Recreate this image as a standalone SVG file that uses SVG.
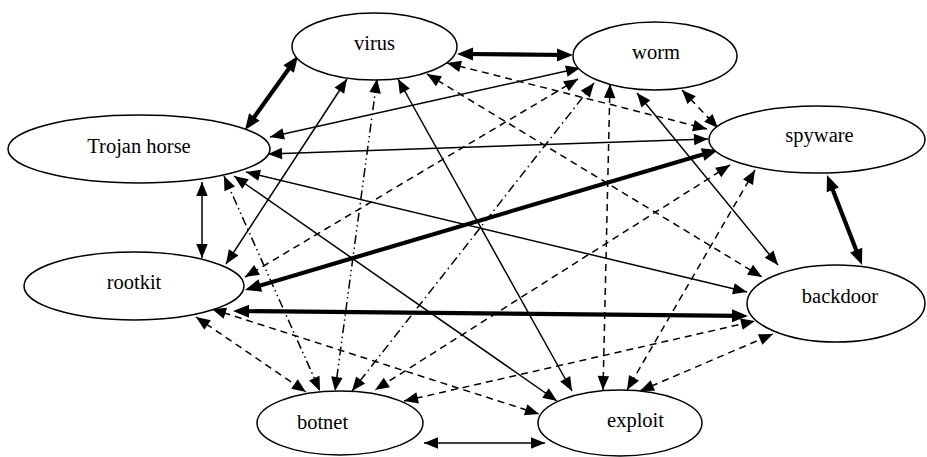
<svg xmlns="http://www.w3.org/2000/svg" width="927" height="457" viewBox="0 0 927 457">
<style>
.n ellipse{fill:#fff;stroke:#000;stroke-width:1.5}
.n text{font-family:'Liberation Serif','Times New Roman',Times,serif;font-size:20.5px;text-anchor:middle;fill:#000}
.e line{stroke:#000;fill:none}
.s{stroke-width:1.5;marker-start:url(#a);marker-end:url(#a)}
.d{stroke-width:1.5;stroke-dasharray:7 5;marker-start:url(#a);marker-end:url(#a)}
.dd{stroke-width:1.5;stroke-dasharray:9 4 1.5 4;marker-start:url(#a);marker-end:url(#a)}
.ddd{stroke-width:1.5;stroke-dasharray:9 3.5 1.5 3.5 1.5 3.5;marker-start:url(#a);marker-end:url(#a)}
.t{stroke-width:4.2;marker-start:url(#A);marker-end:url(#A)}
</style>
<defs>
<marker id="a" markerUnits="userSpaceOnUse" markerWidth="14" markerHeight="12" refX="14" refY="5.75" orient="auto-start-reverse" overflow="visible"><path d="M0,0 L14,5.75 L0,11.5 z" fill="#000"/></marker>
<marker id="A" markerUnits="userSpaceOnUse" markerWidth="16" markerHeight="13" refX="8" refY="6.5" orient="auto-start-reverse" overflow="visible"><path d="M0,0 L16,6.5 L0,13 z" fill="#000"/></marker>
</defs>
<g class="e" id="connectors">
<line class="s" x1="202" y1="182" x2="202" y2="258"/>
<line class="s" x1="424" y1="443" x2="545" y2="443"/>
<line class="s" x1="270" y1="137" x2="580" y2="68"/>
<line class="s" x1="268" y1="154" x2="708" y2="139"/>
<line class="s" x1="246" y1="172" x2="747" y2="292"/>
<line class="s" x1="234" y1="176" x2="557" y2="401"/>
<line class="s" x1="347" y1="79" x2="226" y2="264"/>
<line class="s" x1="398" y1="79" x2="572" y2="391"/>
<line class="s" x1="637" y1="93" x2="778" y2="265"/>
<line class="d" x1="447" y1="63" x2="707" y2="129"/>
<line class="d" x1="427" y1="74" x2="762" y2="277"/>
<line class="d" x1="682" y1="90" x2="718" y2="128"/>
<line class="d" x1="578" y1="79" x2="245" y2="277"/>
<line class="d" x1="610" y1="84" x2="603" y2="390"/>
<line class="d" x1="730" y1="165" x2="375" y2="390"/>
<line class="d" x1="755" y1="170" x2="627" y2="390"/>
<line class="d" x1="196" y1="317" x2="306" y2="392"/>
<line class="d" x1="212" y1="309" x2="539" y2="414"/>
<line class="d" x1="404" y1="401" x2="755" y2="321"/>
<line class="d" x1="640" y1="391" x2="773" y2="334"/>
<line class="ddd" x1="224" y1="176" x2="320" y2="391"/>
<line class="ddd" x1="377" y1="79" x2="335" y2="391"/>
<line class="dd" x1="594" y1="83" x2="352" y2="391"/>
<line class="t" x1="465" y1="54" x2="565" y2="55"/>
<line class="t" x1="249.7" y1="123.5" x2="293.3" y2="62.5"/>
<line class="t" x1="829.9" y1="182.5" x2="859.1" y2="257.5"/>
<line class="t" x1="252.7" y1="287.7" x2="710.3" y2="152.3"/>
<line class="t" x1="241" y1="311.1" x2="740" y2="315.9"/>
</g>
<g class="n" id="virus"><ellipse cx="374.5" cy="46.5" rx="82.5" ry="33.5"/><text x="374.5" y="49.5" font-family="Liberation Serif, serif">virus</text></g>
<g class="n" id="worm"><ellipse cx="655" cy="56" rx="82" ry="34"/><text x="656" y="59" font-family="Liberation Serif, serif">worm</text></g>
<g class="n" id="spyware"><ellipse cx="817" cy="139.5" rx="108" ry="33.5"/><text x="819.5" y="142" font-family="Liberation Serif, serif">spyware</text></g>
<g class="n" id="trojan"><ellipse cx="139" cy="149" rx="131" ry="34"/><text x="139" y="153" font-family="Liberation Serif, serif">Trojan horse</text></g>
<g class="n" id="rootkit"><ellipse cx="134" cy="286" rx="110" ry="34"/><text x="134" y="289" font-family="Liberation Serif, serif">rootkit</text></g>
<g class="n" id="backdoor"><ellipse cx="836" cy="303.5" rx="89" ry="38.5"/><text x="840" y="303" font-family="Liberation Serif, serif">backdoor</text></g>
<g class="n" id="botnet"><ellipse cx="340" cy="423" rx="83" ry="32"/><text x="322.5" y="429" font-family="Liberation Serif, serif">botnet</text></g>
<g class="n" id="exploit"><ellipse cx="620" cy="423" rx="82" ry="33"/><text x="635.5" y="427" font-family="Liberation Serif, serif">exploit</text></g>
</svg>
